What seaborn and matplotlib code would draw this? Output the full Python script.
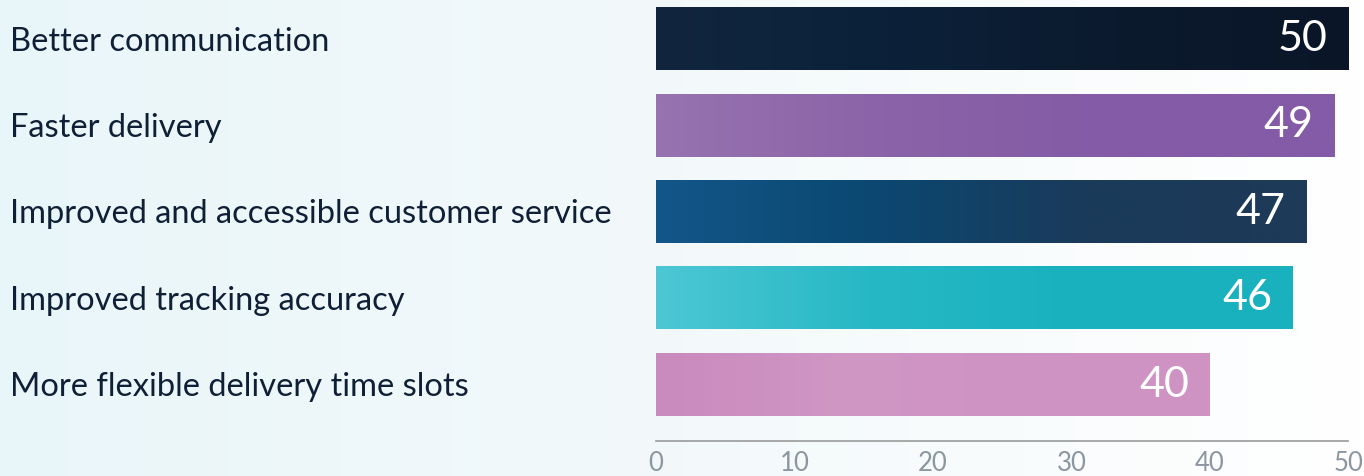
import numpy as np
import pandas as pd
import seaborn as sns
import matplotlib.pyplot as plt
import matplotlib.transforms as mtransforms
from matplotlib.colors import LinearSegmentedColormap

# Data
categories = ["Better communication", "Faster delivery",
              "Improved and accessible customer service",
              "Improved tracking accuracy",
              "More flexible delivery time slots"]
values = [50, 49, 47, 46, 40]
ticks = [0, 10, 20, 30, 40, 50]

# Gradient stops for each bar (left -> right)
bar_gradients = [
    ["#11253f", "#0b2139", "#0c1a2e", "#0a1628"],
    ["#9773b0", "#8b63a8", "#835ba6", "#835ba6"],
    ["#135689", "#0b4871", "#1a3a5a", "#1e3a58"],
    ["#4dc7d4", "#27b8c5", "#19b1be", "#19b1be"],
    ["#c98abd", "#d096c4", "#cf93c3", "#cf93c3"],
]

df = pd.DataFrame({"category": categories, "value": values})

sns.set_style("white")
plt.rcParams["font.family"] = ["Lato", "DejaVu Sans"]

fig = plt.figure(figsize=(13.64, 4.76), dpi=100)

# Background gradient (light cyan on the left, white on the right)
bg = fig.add_axes([0, 0, 1, 1], zorder=0)
bg_cmap = LinearSegmentedColormap.from_list("bg", ["#e9f6f9", "#f3f9fb", "#ffffff"])
bg.imshow(np.linspace(0, 1, 256).reshape(1, -1), aspect="auto", cmap=bg_cmap,
          extent=[0, 1, 0, 1])
bg.axis("off")

ax = fig.add_axes([0.481, 0.0735, 0.5075, 0.9265], zorder=1)
ax.patch.set_alpha(0)

sns.barplot(data=df, x="value", y="category", orient="h", width=0.72,
            color="#333333", ax=ax)

# Replace the flat fill with horizontal gradients clipped to each bar
grad = np.linspace(0, 1, 256).reshape(1, -1)
for patch, stops in zip(ax.patches, bar_gradients):
    x0, y0 = patch.get_x(), patch.get_y()
    w, h = patch.get_width(), patch.get_height()
    cmap = LinearSegmentedColormap.from_list("g", stops)
    im = ax.imshow(grad, aspect="auto", cmap=cmap,
                   extent=[x0, x0 + w, y0 + h, y0], zorder=2, clip_on=False)
    im.set_clip_path(patch)
    patch.set_facecolor("none")
    patch.set_edgecolor("none")
    patch.set_clip_on(False)

ax.set_xlim(0, 50)
ax.set_ylim(4.65, -0.45)

# Value labels inside the bars
for i, v in enumerate(values):
    ax.annotate(str(v), xy=(v, i), xytext=(-15, 0), textcoords="offset points",
                ha="right", va="center", color="white", fontsize=31, zorder=3)

# Category labels aligned to the left edge of the figure
trans = mtransforms.blended_transform_factory(fig.transFigure, ax.transData)
for i, c in enumerate(categories):
    ax.text(0.0075, i + 0.03, c, transform=trans, ha="left", va="center",
            fontsize=23.5, color="#0f1f35")

ax.set_yticks([])
ax.set_ylabel("")
ax.set_xlabel("")
ax.set_xticks(ticks)
ax.tick_params(axis="x", colors="#8c96a0", labelsize=18.5, length=3,
               direction="in", pad=7, width=1)
sns.despine(ax=ax, left=True, top=True, right=True)
ax.spines["bottom"].set_color("#9a9a9a")
ax.spines["bottom"].set_linewidth(1.2)

fig.savefig("out.png", dpi=100)
